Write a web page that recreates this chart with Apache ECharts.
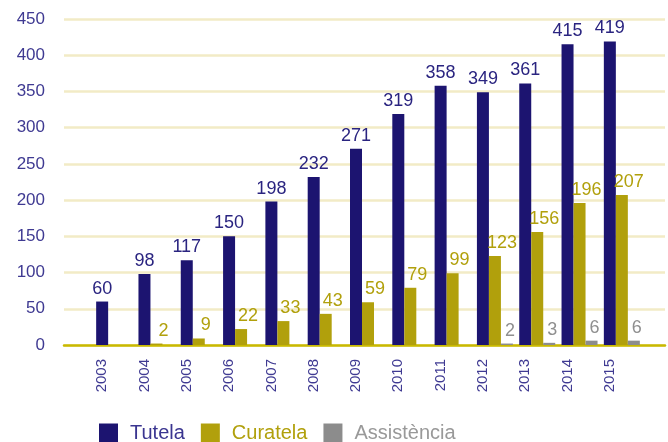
<!DOCTYPE html>
<html>
<head>
<meta charset="utf-8">
<script src="https://cdn.jsdelivr.net/npm/echarts@6/dist/echarts.min.js"></script>
<style>
  html, body { margin: 0; padding: 0; background: #fff; }
  #chart { width: 668px; height: 442px; }
</style>
</head>
<body>
<div id="chart"></div>
<script>
const years = ["2003", "2004", "2005", "2006", "2007", "2008", "2009", "2010", "2011", "2012", "2013", "2014", "2015"];
const tutela = [60, 98, 117, 150, 198, 232, 271, 319, 358, 349, 361, 415, 419];
const curatela = ["-", 2, 9, 22, 33, 43, 59, 79, 99, 123, 156, 196, 207];
const assistencia = ["-", "-", "-", "-", "-", "-", "-", "-", "-", 2, 3, 6, 6];

const NAVY = "#1c1470";
const OLIVE = "#b1a00c";
const GREY = "#8c8c8c";
const AXIS_TEXT = "#3f3a92";
const FONT = "Liberation Sans";

const chart = echarts.init(document.getElementById("chart"));

function barSeries(name, data, color, labelColor, offsetX) {
  return {
    name: name,
    type: "bar",
    xAxisIndex: 1,
    yAxisIndex: 1,
    data: data,
    barWidth: 12,
    barGap: "0%",
    itemStyle: { color: color },
    label: {
      show: true,
      position: "top",
      distance: 4,
      offset: [offsetX, 0],
      color: labelColor,
      fontSize: 18,
      fontFamily: FONT,
    },
  };
}

chart.setOption({
  animation: false,
  textStyle: { fontFamily: FONT },
  grid: [
    // gridlines + value axis
    { left: 64, right: 3, top: 19, bottom: 97 },
    // bars
    { left: 93, right: 25, top: 19, bottom: 97 },
  ],
  legend: {
    left: 94,
    top: 418,
    icon: "rect",
    itemWidth: 19,
    itemHeight: 19,
    itemGap: 16,
    textStyle: { fontSize: 20, fontFamily: FONT, padding: [0, 0, 0, 7] },
    data: [
      { name: "Tutela", textStyle: { color: "#3a3590" } },
      { name: "Curatela", textStyle: { color: OLIVE, padding: [0, 5, 0, 7] } },
      { name: "Assistència", textStyle: { color: "#999999" } },
    ],
  },
  xAxis: [
    {
      gridIndex: 0,
      type: "value",
      min: 0,
      max: 1,
      axisLine: { show: true, lineStyle: { color: "#c9b900", width: 2.5 } },
      axisTick: { show: false },
      axisLabel: { show: false },
      splitLine: { show: false },
    },
    {
      gridIndex: 1,
      type: "category",
      data: years,
      axisLine: { show: false },
      axisTick: { show: false },
      axisLabel: {
        interval: 0,
        rotate: 90,
        margin: 14,
        color: AXIS_TEXT,
        fontSize: 15,
        fontFamily: FONT,
        // year labels sit under the Tutela bar, not the group centre
        verticalAlign: "bottom",
        lineHeight: 24,
      },
    },
  ],
  yAxis: [
    {
      gridIndex: 0,
      type: "value",
      min: 0,
      max: 450,
      interval: 50,
      axisLine: { show: false },
      axisTick: { show: false },
      axisLabel: { color: AXIS_TEXT, fontSize: 17, fontFamily: FONT, margin: 19 },
      splitLine: { show: true, lineStyle: { color: "#f2ebc6", width: 2.5 } },
    },
    {
      gridIndex: 1,
      type: "value",
      min: 0,
      max: 450,
      show: false,
    },
  ],
  series: [
    barSeries("Tutela", tutela, NAVY, "#2a2480", 0),
    barSeries("Curatela", curatela, OLIVE, OLIVE, 7),
    barSeries("Assistència", assistencia, GREY, "#8f8f8f", 3),
  ],
});
</script>
</body>
</html>
